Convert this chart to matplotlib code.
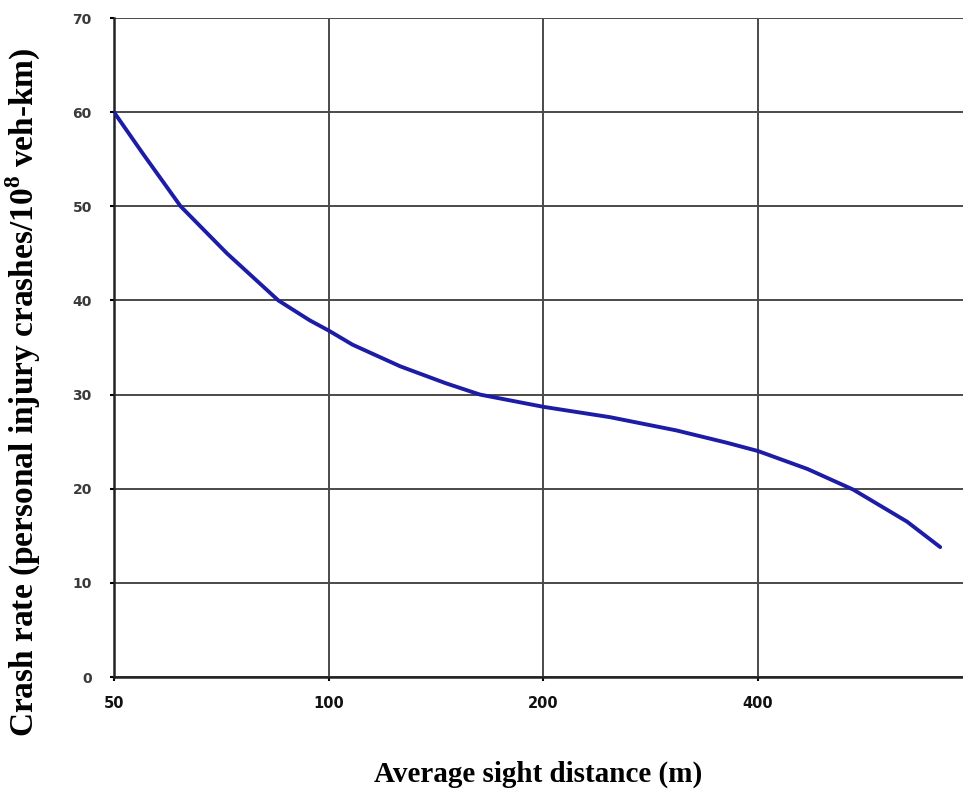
import matplotlib.pyplot as plt
from matplotlib.ticker import FixedLocator, NullLocator

# Valores (distancia de visibilidade em m, taxa de acidentes)
distancia = [50, 55, 62, 72, 85, 94, 100, 108, 126, 146, 163, 200, 248, 307, 361, 400, 469, 544, 647, 720]
taxa = [60, 55.5, 50, 45.0, 40, 37.9, 36.8, 35.3, 33.0, 31.2, 30, 28.7, 27.6, 26.2, 24.9, 24.0, 22.1, 19.9, 16.5, 13.8]

x_ticks = [50, 100, 200, 400]
y_ticks = [0, 10, 20, 30, 40, 50, 60, 70]

# fonte do expoente no rotulo do eixo y
plt.rcParams['mathtext.fontset'] = 'custom'
plt.rcParams['mathtext.rm'] = 'Liberation Serif'
plt.rcParams['mathtext.bf'] = 'Liberation Serif:bold'

fig = plt.figure(figsize=(9.63, 7.92), dpi=100)
ax = fig.add_axes([0.1184, 0.1452, 0.8816, 0.832])

ax.plot(distancia, taxa, color='#1c1ca6', linewidth=2.8, solid_capstyle='round',
        solid_joinstyle='round', zorder=3)

ax.set_xscale('log', base=2)
ax.set_xlim(50, 775)
ax.set_ylim(0, 70)
ax.xaxis.set_major_locator(FixedLocator(x_ticks))
ax.xaxis.set_minor_locator(NullLocator())
ax.set_xticklabels([str(t) for t in x_ticks])
ax.set_yticks(y_ticks)

# grade escura como no original
ax.grid(True, color='#4a4a4a', linewidth=1.4)
ax.set_axisbelow(True)
for lado in ['top', 'right']:
    ax.spines[lado].set_visible(False)
for lado in ['left', 'bottom']:
    ax.spines[lado].set_color('#222222')
    ax.spines[lado].set_linewidth(1.8)

ax.tick_params(axis='y', length=3, width=1.5, pad=13, labelsize=10, labelcolor='#3a3a3a')
ax.tick_params(axis='x', length=3, width=1.5, pad=11, labelsize=10.5, labelcolor='#111111')
for lbl in ax.get_xticklabels() + ax.get_yticklabels():
    lbl.set_fontweight('bold')

fig.text(0.024, 0.505, 'Crash rate (personal injury crashes/10$^{\\mathbf{8}}$ veh-km)',
         rotation=90, ha='center', va='center', fontsize=24, fontweight='bold',
         family='Liberation Serif')
fig.text(0.559, 0.022, 'Average sight distance (m)', ha='center', va='center',
         fontsize=21, fontweight='bold', family='Liberation Serif')

fig.savefig('out.png', dpi=100)
